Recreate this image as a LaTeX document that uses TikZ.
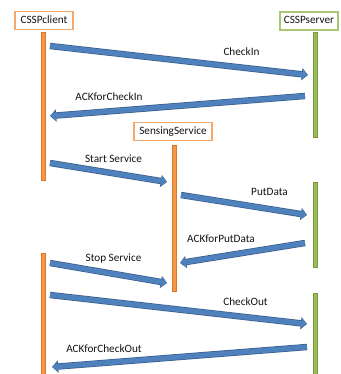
\documentclass[tikz,border=0pt]{standalone}
\usepackage{fontspec}
\setmainfont{Carlito}
\usetikzlibrary{arrows.meta}
\definecolor{orfill}{HTML}{F79646}
\definecolor{oredge}{HTML}{D9792C}
\definecolor{orbox}{HTML}{F8A96A}
\definecolor{grfill}{HTML}{9BBB59}
\definecolor{gredge}{HTML}{7A9A3E}
\definecolor{grbox}{HTML}{A9C773}
\definecolor{msgfill}{HTML}{4F81BD}
\definecolor{msgedge}{HTML}{385D8A}
\definecolor{txt}{HTML}{141414}
\tikzset{
  actor/.style={draw, line width=1.4pt, fill=white, minimum height=18pt,
    inner sep=2pt, text height=8pt, text depth=2pt, font=\fontsize{11.2}{13}\selectfont, text=txt},
  clientbox/.style={actor, draw=orbox},
  serverbox/.style={actor, draw=grbox},
  orbar/.style={fill=orfill, draw=oredge, line width=0.6pt},
  grbar/.style={fill=grfill, draw=gredge, line width=0.6pt},
  msg/.style={draw=msgfill, line width=5pt, -{Triangle[length=5pt,width=10pt]},
    shorten >=0.6pt,
    preaction={draw=msgedge, line width=6.4pt, -{Triangle[length=6.2pt,width=12pt]}, shorten >=0pt}},
  lbl/.style={anchor=base, inner sep=0pt, font=\fontsize{11.2}{13}\selectfont, text=txt}
}
\begin{document}
\begin{tikzpicture}[x=1pt,y=-1pt]
\useasboundingbox[fill=white] (0,0) rectangle (340,374);

% lifelines
\draw[orbar] (41.5,32) rectangle (45.5,180);
\draw[orbar] (41.5,253) rectangle (45.5,376);
\draw[orbar] (172,145) rectangle (176,291);
\draw[grbar] (313,32) rectangle (317,137);
\draw[grbar] (313,182) rectangle (317,267);
\draw[grbar] (313,293) rectangle (317,376);

% participants
\node[clientbox, minimum width=58pt] (client) at (44,20.5) {CSSPclient};
\node[serverbox, minimum width=58pt] (server) at (309,21) {CSSPserver};
\node[clientbox, minimum width=78pt] (sensing) at (173,131.5) {SensingService};

% message end points
\coordinate (c1) at (50,46);   \coordinate (s1) at (308,75);
\coordinate (s2) at (305,96);  \coordinate (c2) at (50,116);
\coordinate (c3) at (50,163);  \coordinate (e3) at (167,182);
\coordinate (e4) at (181,195); \coordinate (s4) at (307,215);
\coordinate (s5) at (305,243); \coordinate (e5) at (180,263);
\coordinate (c6) at (50,263);  \coordinate (e6) at (167,283);
\coordinate (c7) at (50,295);  \coordinate (s7) at (307,324);
\coordinate (s8) at (307,347); \coordinate (c8) at (52,367);

% messages
\draw[msg] (c1) -- (s1);
\draw[msg] (s2) -- (c2);
\draw[msg] (c3) -- (e3);
\draw[msg] (e4) -- (s4);
\draw[msg] (s5) -- (e5);
\draw[msg] (c6) -- (e6);
\draw[msg] (c7) -- (s7);
\draw[msg] (s8) -- (c8);

% message labels
\node[lbl] (l1) at (241.5,55.6) {CheckIn};
\node[lbl] (l2) at (109,100.6) {ACKforCheckIn};
\node[lbl] (l3) at (113.5,162.6) {Start Service};
\node[lbl] (l4) at (269.5,195.6) {PutData};
\node[lbl] (l5) at (221,242) {ACKforPutData};
\node[lbl] (l6) at (113.5,261.6) {Stop Service};
\node[lbl] (l7) at (245.5,305.6) {CheckOut};
\node[lbl] (l8) at (104,352.6) {ACKforCheckOut};
\end{tikzpicture}
\end{document}
